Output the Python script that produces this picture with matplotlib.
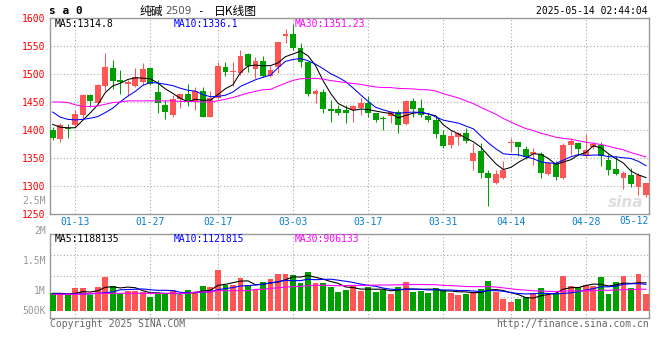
import numpy as np
import pandas as pd
import matplotlib
matplotlib.use("Agg")
import matplotlib.pyplot as plt

plt.rcParams["font.family"] = ["DejaVu Sans Mono"]

# 纯碱2509 daily candles, 2025-01-08 .. 2025-05-13 (80 trading days)
opens = [1400, 1384, 1404, 1409, 1427, 1462, 1449, 1479, 1510, 1490,
         1483, 1479, 1486, 1510, 1467, 1445, 1426, 1455, 1465, 1452,
         1470, 1424, 1458, 1513, 1503, 1501, 1535, 1509, 1523, 1496,
         1512, 1568, 1571, 1546, 1521, 1464, 1467, 1437, 1437, 1436,
         1436, 1439, 1449, 1430, 1422, 1425, 1433, 1411, 1451, 1439,
         1425, 1417, 1391, 1373, 1388, 1394, 1345, 1362, 1323, 1306,
         1315, 1376, 1378, 1366, 1357, 1357, 1321, 1341, 1315, 1373,
         1376, 1354, 1369, 1374, 1347, 1330, 1315, 1320, 1299, 1284]
highs = [1406, 1413, 1410, 1436, 1464, 1465, 1482, 1537, 1525, 1507,
         1490, 1511, 1519, 1511, 1489, 1454, 1463, 1465, 1482, 1477,
         1477, 1470, 1522, 1522, 1522, 1543, 1537, 1530, 1532, 1514,
         1558, 1580, 1590, 1556, 1522, 1473, 1474, 1454, 1445, 1445,
         1445, 1457, 1460, 1431, 1425, 1434, 1436, 1454, 1457, 1455,
         1431, 1423, 1400, 1400, 1396, 1403, 1376, 1376, 1329, 1329,
         1344, 1386, 1378, 1372, 1367, 1360, 1342, 1344, 1376, 1385,
         1379, 1393, 1379, 1379, 1358, 1354, 1327, 1332, 1324, 1306]
lows = [1382, 1379, 1386, 1406, 1419, 1441, 1448, 1469, 1473, 1465,
        1460, 1477, 1480, 1480, 1431, 1419, 1423, 1439, 1443, 1436,
        1423, 1423, 1455, 1496, 1479, 1498, 1504, 1493, 1495, 1495,
        1501, 1556, 1543, 1513, 1460, 1448, 1431, 1415, 1427, 1413,
        1414, 1427, 1423, 1415, 1400, 1412, 1395, 1409, 1424, 1423,
        1415, 1385, 1368, 1367, 1373, 1377, 1329, 1315, 1265, 1304,
        1312, 1360, 1354, 1348, 1338, 1314, 1319, 1310, 1313, 1355,
        1355, 1350, 1366, 1335, 1320, 1319, 1295, 1299, 1284, 1281]
closes = [1386, 1409, 1402, 1428, 1462, 1452, 1480, 1512, 1488, 1485,
          1486, 1495, 1509, 1482, 1448, 1433, 1455, 1464, 1452, 1470,
          1424, 1457, 1514, 1504, 1505, 1533, 1515, 1523, 1497, 1507,
          1557, 1571, 1547, 1522, 1465, 1470, 1437, 1434, 1431, 1431,
          1442, 1449, 1430, 1417, 1419, 1433, 1409, 1452, 1437, 1427,
          1418, 1393, 1372, 1389, 1394, 1381, 1359, 1324, 1314, 1321,
          1329, 1378, 1369, 1352, 1360, 1324, 1341, 1316, 1373, 1381,
          1366, 1364, 1375, 1354, 1329, 1322, 1324, 1304, 1320, 1305]
volumes_k = [744, 744, 674, 954, 954, 674, 996, 1417, 1052, 716,
             856, 856, 814, 603, 702, 702, 884, 674, 884, 744,
             1052, 996, 1726, 1095, 1095, 1375, 1052, 912, 1221, 1333,
             1558, 1558, 1516, 1193, 1642, 1193, 1165, 1024, 800, 884,
             1052, 856, 996, 800, 884, 716, 996, 1221, 800, 828,
             758, 968, 884, 772, 674, 716, 814, 912, 1263, 814,
             505, 379, 505, 603, 744, 968, 674, 744, 1473, 1052,
             996, 1095, 1052, 1417, 716, 1221, 1473, 968, 1558, 716]

# moving-average values before enough history is in view
ma5_head = [1410, 1405, 1404, 1404]
ma10_head = [1432, 1423, 1419, 1418, 1419, 1421, 1424, 1431, 1439]
ma30_head = [1450, 1450, 1449, 1445, 1442, 1442, 1443, 1446, 1449, 1450,
             1452, 1452, 1452, 1452, 1452, 1452, 1452, 1451, 1451, 1451,
             1450, 1450, 1452, 1455, 1458, 1462, 1466, 1469, 1472]
vma5_head = [744, 744, 716, 744]
vma10_head = [716, 716, 716, 716, 716, 716, 744, 772, 800]
vma30_head = [702, 702, 702, 702, 702, 744, 744, 744, 744, 744,
              744, 744, 744, 744, 744, 744, 744, 744, 744, 800,
              800, 800, 856, 856, 856, 856, 856, 912, 912]

tick_pos = [3, 13, 22, 32, 42, 52, 61, 71]
tick_labels = ["01-13", "01-27", "02-17", "03-03", "03-17", "03-31", "04-14", "04-28"]
last_label = "05-12"

price_ticks = [1250, 1300, 1350, 1400, 1450, 1500, 1550, 1600]
vol_labels = ["2.5M", "2M", "1.5M", "1M", "500K"]

RED = "#FF5555"
GREEN = "#00A000"
GRID = "#AAAAAA"
BORDER = "#999999"
W, H = 660, 360


def moving_avg(values, n, head):
    ma = pd.Series(values, dtype=float).rolling(n).mean().to_numpy()
    ma[:len(head)] = head
    return ma


def fx(px):
    return px / W


def fy(py):
    return 1 - py / H


x = np.arange(len(closes))
o = np.array(opens, dtype=float)
c = np.array(closes, dtype=float)
vol = np.array(volumes_k, dtype=float) * 1000
colors = [RED if cc >= oo else GREEN for oo, cc in zip(o, c)]

fig = plt.figure(figsize=(6.6, 3.6), dpi=100)
ax = fig.add_axes([fx(50), fy(214), 599 / W, 196 / H])
axv = fig.add_axes([fx(50), fy(318), 599 / W, 84 / H])

# candles
ax.vlines(x, lows, highs, colors=colors, linewidth=0.75, zorder=3)
body_bottom = np.minimum(o, c)
body_height = np.maximum(np.abs(c - o), 0.9)
ax.bar(x, body_height, bottom=body_bottom, width=0.78, color=colors,
       linewidth=0, zorder=4)

ax.plot(x, moving_avg(closes, 5, ma5_head), color="black", lw=0.75, zorder=5)
ax.plot(x, moving_avg(closes, 10, ma10_head), color="#0000FF", lw=0.75, zorder=5)
ax.plot(x, moving_avg(closes, 30, ma30_head), color="#FF00FF", lw=0.75, zorder=5)

ax.set_xlim(-0.36, 79.4)
ax.set_ylim(1250, 1600)
ax.set_yticks(price_ticks)
ax.set_xticks(tick_pos)
ax.set_xticklabels(tick_labels)
ax.grid(True, color=GRID, linestyle=(0, (1, 2)), linewidth=0.8)
ax.tick_params(axis="y", length=0, pad=3, labelcolor="red", labelsize=7)
ax.tick_params(axis="x", length=0, pad=2.5, labelcolor="#0A7FD0", labelsize=7)
ax.text(1.0, -0.0357, last_label, transform=ax.transAxes, ha="right", va="center",
        color="#0A7FD0", fontsize=7)
ax.text(0.99, 0.06, "sina", transform=ax.transAxes, ha="right", va="center",
        fontsize=11, style="italic", weight="bold", color="#DDDDDD",
        family=["DejaVu Sans"], zorder=1)

# volume
axv.bar(x, vol, width=0.78, color=colors, linewidth=0, zorder=3)
axv.plot(x, moving_avg(volumes_k, 5, vma5_head) * 1000, color="black", lw=0.8, zorder=4)
axv.plot(x, moving_avg(volumes_k, 10, vma10_head) * 1000, color="#0000FF", lw=0.8, zorder=4)
axv.plot(x, moving_avg(volumes_k, 30, vma30_head) * 1000, color="#FF00FF", lw=0.8, zorder=4)
axv.set_xlim(-0.36, 79.4)
axv.set_ylim(-294700, 3241700)
axv.set_xticks(tick_pos)
axv.set_xticklabels([])
axv.set_yticks([])
axv.tick_params(length=0)
axv.grid(True, axis="x", color=GRID, linestyle=(0, (1, 2)), linewidth=0.8)
for f in (0.25, 0.5, 0.75):
    axv.plot([0, 1], [f, f], transform=axv.transAxes, color=GRID,
             linestyle=(0, (1, 2)), linewidth=0.8, zorder=1)

for a in (ax, axv):
    for s in a.spines.values():
        s.set_color(BORDER)
        s.set_linewidth(1.0)

# header texts
fig.text(fx(49), fy(11.5), "s a 0", fontsize=8, weight="bold", va="center")
fig.text(fx(140), fy(11), "纯碱", family=["Noto Sans CJK SC"], fontsize=8.5, va="center")
fig.text(fx(165), fy(11.5), "2509", family=["DejaVu Sans"], color="#555555",
         fontsize=7.5, va="center")
fig.text(fx(197), fy(11.5), "-", fontsize=8, va="center")
fig.text(fx(214), fy(11), "日K线图", family=["Noto Sans CJK SC"], fontsize=8.5, va="center")
fig.text(fx(648), fy(11.5), "2025-05-14 02:44:04", fontsize=7, ha="right", va="center")

fig.text(fx(55), fy(24), "MA5:1314.8", fontsize=7, va="center", color="black")
fig.text(fx(174), fy(24), "MA10:1336.1", fontsize=7, va="center", color="#0000FF")
fig.text(fx(295), fy(24), "MA30:1351.23", fontsize=7, va="center", color="#FF00FF", zorder=10)
fig.text(fx(55), fy(239), "MA5:1188135", fontsize=7, va="center", color="black")
fig.text(fx(174), fy(239), "MA10:1121815", fontsize=7, va="center", color="#0000FF")
fig.text(fx(295), fy(239), "MA30:906133", fontsize=7, va="center", color="#FF00FF")

for label, py in zip(vol_labels, [201, 231, 261, 291, 311]):
    fig.text(fx(46), fy(py), label, fontsize=7, ha="right", va="center", color="#999999")

fig.text(fx(50), fy(324), "Copyright 2025 SINA.COM", fontsize=7, va="center", color="#666666")
fig.text(fx(649), fy(324), "http://finance.sina.com.cn", fontsize=7, ha="right",
         va="center", color="#666666")

fig.savefig("out.png", dpi=100)
